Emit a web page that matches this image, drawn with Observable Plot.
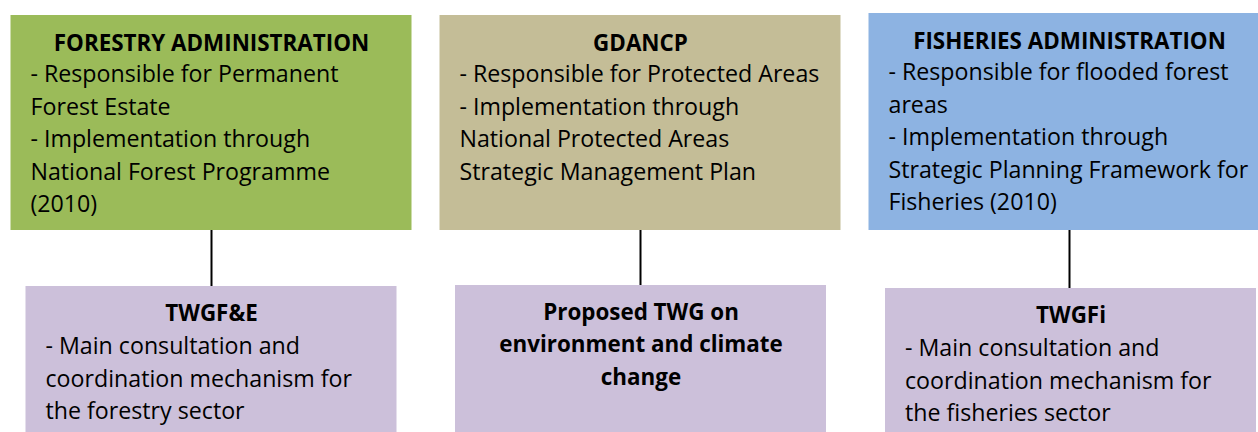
<!DOCTYPE html>
<html>
<head>
<meta charset="utf-8">
<script src="https://cdn.jsdelivr.net/npm/d3@7"></script>
<script src="https://cdn.jsdelivr.net/npm/@observablehq/plot@0.6"></script>
<style>
  html, body { margin: 0; padding: 0; background: #fff; }
  #chart svg { display: block; }
</style>
</head>
<body>
<div id="chart"></div>
<script>
// ---- Content ----
const columns = ["forestry", "gdancp", "fisheries"];
const topTitles = ["FORESTRY ADMINISTRATION", "GDANCP", "FISHERIES ADMINISTRATION"];
const topBodies = [
  ["- Responsible for Permanent", "Forest Estate", "- Implementation through", "National Forest Programme", "(2010)"],
  ["- Responsible for Protected Areas", "- Implementation through", "National Protected Areas", "Strategic Management Plan"],
  ["- Responsible for flooded forest", "areas", "- Implementation through", "Strategic Planning Framework for", "Fisheries (2010)"]
];
const bottomTitles = [
  ["TWGF&E"],
  ["Proposed TWG on", "environment and climate", "change"],
  ["TWGFi"]
];
const bottomBodies = [
  ["- Main consultation and", "coordination mechanism for", "the forestry sector"],
  [],
  ["- Main consultation and", "coordination mechanism for", "the fisheries sector"]
];
const topColors = ["#9BBB59", "#C4BD97", "#8DB3E2"];
const bottomColor = "#CCC0DA";

// ---- Layout (diagram geometry, separate from content) ----
const W = 1258, H = 432;
const colCenter = [211, 640, 1069];
const topHalf = [200.5, 200.5, 200.5];
const topY1 = [15, 15, 13], topY2 = 230;
const botHalf = 185.5;
const botCenterShift = [0, 0.5, 1.5];
const botY1 = [286, 285, 288], botY2 = 440;
const lineH = 32.6;
const fsBody = 23.2;
const fsTitle = 22.4;

const topBoxes = columns.map((c, i) => ({
  x1: colCenter[i] - topHalf[i], x2: colCenter[i] + topHalf[i],
  y1: topY1[i], y2: topY2, fill: topColors[i]
}));
const botBoxes = columns.map((c, i) => ({
  x1: colCenter[i] + botCenterShift[i] - botHalf, x2: colCenter[i] + botCenterShift[i] + botHalf,
  y1: botY1[i], y2: botY2
}));
const connectors = columns.map((c, i) => ({x: colCenter[i], y1: topY2, y2: botY1[i]}));

const titleRows = [];
const bodyRows = [];
columns.forEach((c, i) => {
  titleRows.push({x: colCenter[i], y: topY1[i] + 28, text: topTitles[i]});
  topBodies[i].forEach((t, j) => bodyRows.push({x: colCenter[i] - 181, y: topY1[i] + 59 + j * lineH, text: t}));
  const bx = colCenter[i] + botCenterShift[i];
  bottomTitles[i].forEach((t, j) => titleRows.push({x: bx, y: botY1[i] + 27 + j * lineH, text: t}));
  bottomBodies[i].forEach((t, j) => bodyRows.push({x: bx - 166, y: botY1[i] + 60 + j * lineH, text: t}));
});

const chart = Plot.plot({
  width: W, height: H, margin: 0,
  style: {fontFamily: "'Open Sans', Lato, sans-serif", background: "#fff"},
  x: {domain: [0, W], range: [0, W], axis: null},
  y: {domain: [0, H], range: [0, H], axis: null},
  marks: [
    Plot.rect(topBoxes, {x1: "x1", x2: "x2", y1: "y1", y2: "y2", fill: d => d.fill}),
    Plot.rect(botBoxes, {x1: "x1", x2: "x2", y1: "y1", y2: "y2", fill: bottomColor}),
    Plot.ruleX(connectors, {x: "x", y1: "y1", y2: "y2", stroke: "#000", strokeWidth: 2}),
    Plot.text(titleRows, {x: "x", y: "y", text: "text", fontSize: fsTitle, fontWeight: "bold", fill: "#000", textAnchor: "middle"}),
    Plot.text(bodyRows, {x: "x", y: "y", text: "text", fontSize: fsBody, fill: "#000", textAnchor: "start"})
  ]
});
document.getElementById("chart").appendChild(chart);
</script>
</body>
</html>
